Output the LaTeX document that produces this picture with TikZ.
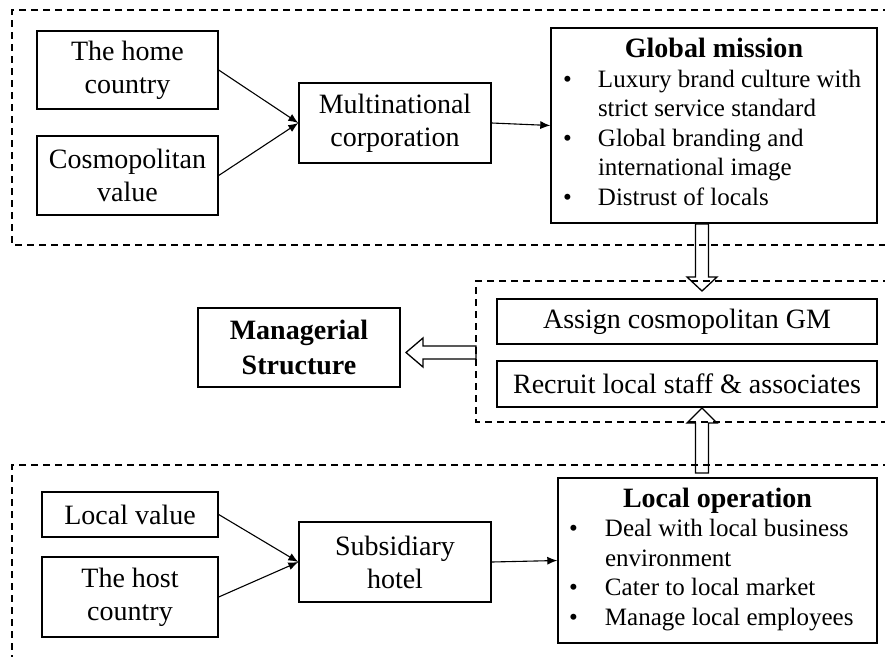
\documentclass[tikz,border=0pt]{standalone}
\usepackage{fontspec}
\setmainfont{Liberation Serif}
\usetikzlibrary{arrows.meta}

\newcommand{\bul}{\textbullet}

\begin{document}
\begin{tikzpicture}[x=1pt,y=-1pt,
  box/.style={draw,line width=1.4pt,align=center,inner sep=0pt,font=\fontsize{28}{33}\selectfont},
  listbox/.style={draw,line width=1.4pt,inner sep=0pt,font=\fontsize{25}{29.5}\selectfont},
  group/.style={line width=1.2pt,dash pattern=on 7pt off 5pt},
  link/.style={line width=1.1pt,-{Latex[length=10pt,width=8pt]}},
  fat/.style={line width=1.3pt,line join=miter}]
  \useasboundingbox (0,0) rectangle (885,656);

  % Dashed groups (open to the right)
  \draw[group] (890,10) -- (12,10) -- (12,245) -- (890,245);
  \draw[group] (890,281) -- (476,281) -- (476,422) -- (890,422);
  \draw[group] (890,465) -- (12,465) -- (12,660);

  % Global side
  \node[box,minimum width=181pt,minimum height=78pt] (home) at (127.5,70) {The home\\country};
  \node[box,minimum width=181pt,minimum height=79pt] (cosmo) at (127.5,175.5) {Cosmopolitan\\value};
  \node[box,minimum width=192pt,minimum height=80pt] (mnc) at (395,123) {Multinational\\corporation};
  \node[listbox,minimum width=326pt,minimum height=195pt] (gm) at (714,125.5) {%
    \begin{tabular}{@{}p{35pt}@{}p{267pt}@{}}
      \multicolumn{2}{c}{\fontsize{28}{32}\selectfont\bfseries Global mission}\\
      \bul & Luxury brand culture with\\
           & strict service standard\\
      \bul & Global branding and\\
           & international image\\
      \bul & Distrust of locals
    \end{tabular}};

  \draw[link] (home.east) -- (mnc.west);
  \draw[link] (cosmo.east) -- (mnc.west);
  \draw[link] (mnc.east) -- (gm.west);

  % Managerial structure
  \node[box,minimum width=380pt,minimum height=45pt] (assign) at (687,321.5) {Assign cosmopolitan GM};
  \node[box,minimum width=380pt,minimum height=46pt] (recruit) at (687,384) {Recruit local staff \& associates};
  \node[box,font=\fontsize{28}{35}\selectfont\bfseries,minimum width=202pt,minimum height=79pt] (manag) at (299,347.5) {Managerial\\Structure};

  % Local side
  \node[box,minimum width=176pt,minimum height=45pt] (localv) at (130,514.5) {Local value};
  \node[box,minimum width=176pt,minimum height=80pt] (host) at (130,597) {The host\\country};
  \node[box,minimum width=192pt,minimum height=80pt] (subs) at (395,562) {Subsidiary\\hotel};
  \node[listbox,minimum width=319pt,minimum height=165pt] (lo) at (717.5,560.5) {%
    \begin{tabular}{@{}p{36pt}@{}p{261pt}@{}}
      \multicolumn{2}{c}{\fontsize{28}{32}\selectfont\bfseries Local operation}\\
      \bul & Deal with local business\\
           & environment\\
      \bul & Cater to local market\\
      \bul & Manage local employees
    \end{tabular}};

  \draw[link] (localv.east) -- (subs.west);
  \draw[link] (host.east) -- (subs.west);
  \draw[link] (subs.east) -- (lo.west);

  % Hollow arrows
  \coordinate (dn) at (702,224);
  \coordinate (up) at (702,473);
  \coordinate (lf) at (476,352.5);
  \draw[fat] (dn) ++(-6.5,0) -- ++(0,53) -- ++(-8.5,0) -- ++(15,14) -- ++(15,-14) -- ++(-8.5,0) -- ++(0,-53) -- cycle;
  \draw[fat] (up) ++(-6.5,0) -- ++(0,-50) -- ++(-8.5,0) -- ++(15,-15) -- ++(15,15) -- ++(-8.5,0) -- ++(0,50) -- cycle;
  \draw[fat] (lf) ++(0,-6.5) -- ++(-53,0) -- ++(0,-8) -- ++(-17,14.5) -- ++(17,14.5) -- ++(0,-8) -- ++(53,0) -- cycle;
\end{tikzpicture}
\end{document}
